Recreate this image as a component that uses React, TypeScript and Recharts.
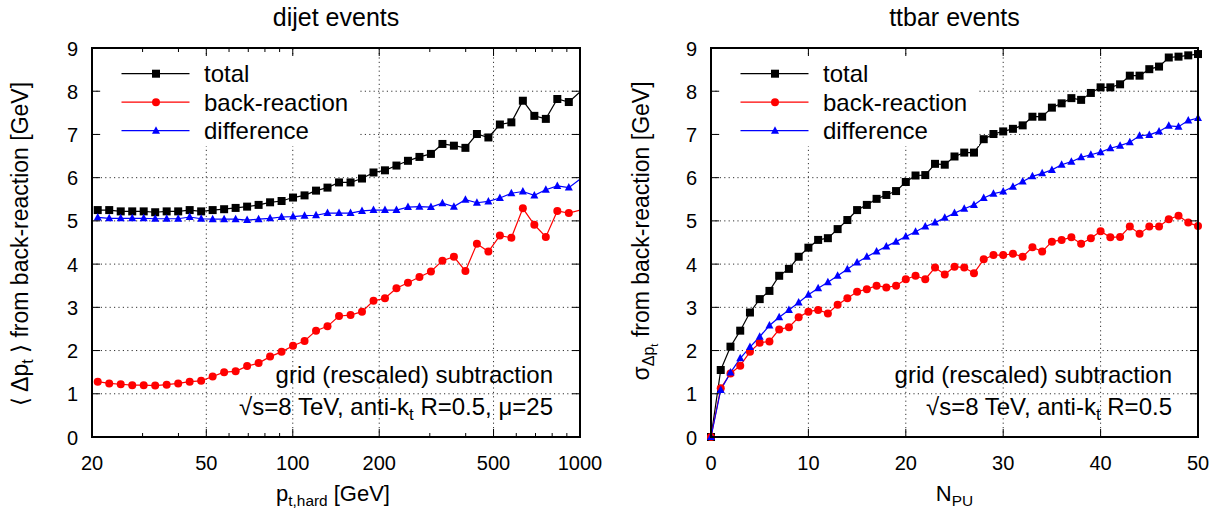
import { LineChart, Line, XAxis, YAxis, CartesianGrid, ReferenceLine } from 'recharts';

// dijet panel: p_t,hard bin centres (25 bins per decade)
const PT_HARD = [
  20.94, 22.96, 25.18, 27.61, 30.27, 33.19, 36.39, 39.91, 43.76, 47.98,
  52.61, 57.68, 63.25, 69.35, 76.04, 83.37, 91.42, 100.2, 109.9, 120.5,
  132.1, 144.9, 158.9, 174.2, 191.0, 209.4, 229.6, 251.8, 276.1, 302.7,
  331.9, 363.9, 399.1, 437.6, 479.8, 526.1, 576.8, 632.5, 693.5, 760.4,
  833.7, 914.2, 1002.4,
];
const DIJET_TOTAL = [
  5.25, 5.25, 5.22, 5.22, 5.22, 5.2, 5.22, 5.22, 5.25, 5.22,
  5.25, 5.27, 5.3, 5.33, 5.37, 5.43, 5.46, 5.54, 5.59, 5.7,
  5.77, 5.89, 5.89, 5.98, 6.12, 6.17, 6.28, 6.39, 6.48, 6.55,
  6.78, 6.74, 6.69, 7.01, 6.93, 7.23, 7.28, 7.78, 7.43, 7.36,
  7.82, 7.75, 7.99,
];
const DIJET_BACK = [
  1.28, 1.24, 1.22, 1.2, 1.2, 1.19, 1.21, 1.24, 1.28, 1.3,
  1.4, 1.5, 1.52, 1.64, 1.71, 1.86, 1.97, 2.11, 2.22, 2.46,
  2.56, 2.8, 2.82, 2.9, 3.15, 3.21, 3.44, 3.57, 3.7, 3.83,
  4.08, 4.17, 3.84, 4.47, 4.29, 4.66, 4.61, 5.29, 4.91, 4.63,
  5.23, 5.18, 5.25,
];
const DIJET_DIFF = [
  5.08, 5.06, 5.06, 5.06, 5.06, 5.05, 5.05, 5.05, 5.09, 5.05,
  5.04, 5.04, 5.04, 5.02, 5.04, 5.06, 5.09, 5.1, 5.12, 5.13,
  5.18, 5.18, 5.18, 5.23, 5.25, 5.25, 5.25, 5.32, 5.33, 5.32,
  5.41, 5.33, 5.49, 5.42, 5.45, 5.53, 5.64, 5.68, 5.59, 5.72,
  5.81, 5.77, 5.97,
];

// ttbar panel
const N_PU = [
  0, 1, 2, 3, 4, 5, 6, 7, 8, 9, 10, 11, 12, 13, 14, 15, 16, 17, 18, 19, 20,
  21, 22, 23, 24, 25, 26, 27, 28, 29, 30, 31, 32, 33, 34, 35, 36, 37, 38, 39, 40,
  41, 42, 43, 44, 45, 46, 47, 48, 49, 50,
];
const TTBAR_TOTAL = [
  0, 1.55, 2.09, 2.46, 2.88, 3.19, 3.38, 3.73, 3.89, 4.17, 4.38,
  4.56, 4.6, 4.81, 5.02, 5.25, 5.37, 5.51, 5.6, 5.69, 5.9,
  6.05, 6.06, 6.32, 6.3, 6.49, 6.58, 6.58, 6.89, 7.01, 7.07,
  7.13, 7.21, 7.41, 7.41, 7.62, 7.72, 7.84, 7.8, 7.96, 8.09,
  8.09, 8.16, 8.36, 8.36, 8.51, 8.57, 8.78, 8.8, 8.83, 8.86,
];
const TTBAR_BACK = [
  0, 1.13, 1.47, 1.65, 1.97, 2.18, 2.21, 2.49, 2.54, 2.77, 2.9,
  2.94, 2.86, 3.06, 3.21, 3.36, 3.42, 3.5, 3.46, 3.5, 3.65,
  3.73, 3.65, 3.92, 3.76, 3.94, 3.92, 3.79, 4.11, 4.21, 4.21,
  4.24, 4.17, 4.39, 4.29, 4.52, 4.56, 4.62, 4.47, 4.6, 4.76,
  4.62, 4.63, 4.87, 4.7, 4.87, 4.87, 5.04, 5.12, 4.96, 4.88,
];
const TTBAR_DIFF = [
  0, 1.09, 1.49, 1.82, 2.08, 2.32, 2.58, 2.77, 2.94, 3.11, 3.29,
  3.44, 3.58, 3.73, 3.88, 4.04, 4.17, 4.29, 4.41, 4.52, 4.64,
  4.75, 4.87, 4.96, 5.07, 5.18, 5.28, 5.37, 5.53, 5.63, 5.68,
  5.79, 5.91, 6.03, 6.1, 6.18, 6.3, 6.37, 6.47, 6.53, 6.59,
  6.68, 6.74, 6.82, 6.97, 6.99, 7.07, 7.2, 7.18, 7.32, 7.38,
];

const SERIES_LABELS = ['total', 'back-reaction', 'difference'];
const LOG_TICKS = [20, 30, 40, 50, 60, 70, 80, 90, 100, 200, 300, 400, 500, 600, 700, 800, 900, 1000];
const LOG_LABELS = [20, 50, 100, 200, 500, 1000];
const LOG_GRID = [50, 100, 200, 500];
const NPU_TICKS = [0, 10, 20, 30, 40, 50];
const NPU_GRID = [10, 20, 30, 40];
const Y_TICKS = [0, 1, 2, 3, 4, 5, 6, 7, 8, 9];

const dijetData = PT_HARD.map((pt, i) => ({
  pt,
  total: DIJET_TOTAL[i],
  back: DIJET_BACK[i],
  diff: DIJET_DIFF[i],
}));
const ttbarData = N_PU.map((n, i) => ({
  n,
  total: TTBAR_TOTAL[i],
  back: TTBAR_BACK[i],
  diff: TTBAR_DIFF[i],
}));

const FONT = '"Liberation Sans", Arial, Helvetica, sans-serif';
const COLORS = ['#000000', '#ff0000', '#0000ff'];
const CW = 614;
const CH = 518;
const TOP = 48;
const BOTTOM = 437;

const marker = (kind: number, cx: number, cy: number, key?: string) => {
  if (kind === 0) return <rect key={key} x={cx - 4} y={cy - 4} width={8} height={8} fill={COLORS[0]} />;
  if (kind === 1) return <circle key={key} cx={cx} cy={cy} r={4} fill={COLORS[1]} />;
  return (
    <polygon
      key={key}
      points={`${cx},${cy - 4.5} ${cx - 4},${cy + 3} ${cx + 4},${cy + 3}`}
      fill={COLORS[2]}
    />
  );
};

const makeDot = (kind: number, maxX?: number) => (props: any) => {
  const { cx, cy, index, payload } = props;
  const k = `d${kind}-${index}`;
  if (cx == null || cy == null) return <g key={k} />;
  if (maxX != null && payload.pt > maxX) return <g key={k} />;
  return marker(kind, cx, cy, k);
};

const makeXTick = (labels: number[], top: number, bottom: number) => (p: any) => {
  const v = p.payload.value;
  const major = labels.includes(v);
  const len = major ? 8 : 4;
  return (
    <g key={`xt-${v}`}>
      <line x1={p.x} x2={p.x} y1={bottom} y2={bottom - len} stroke="#000" />
      <line x1={p.x} x2={p.x} y1={top} y2={top + len} stroke="#000" />
      {major && (
        <text x={p.x} y={bottom + 33} textAnchor="middle" fontSize={20} fontFamily={FONT} fill="#000">
          {v}
        </text>
      )}
    </g>
  );
};

const makeYTick = (left: number, right: number) => (p: any) => {
  const v = p.payload.value;
  return (
    <g key={`yt-${v}`}>
      <line x1={left} x2={left + 8} y1={p.y} y2={p.y} stroke="#000" />
      <line x1={right - 8} x2={right} y1={p.y} y2={p.y} stroke="#000" />
      <text x={left - 14} y={p.y + 7.5} textAnchor="end" fontSize={20} fontFamily={FONT} fill="#000">
        {v}
      </text>
    </g>
  );
};

const gridStyle = { stroke: '#333', strokeDasharray: '1.2 3.2', strokeWidth: 1 };

const Key = ({ left }: { left: number }) => (
  <svg style={{ position: 'absolute', left, top: 57 }} width={259} height={89}>
    <rect width={259} height={89} fill="#fff" />
    {SERIES_LABELS.map((label, i) => {
      const cy = 16.7 + i * 28.5;
      return (
        <g key={label}>
          <line x1={20.5} x2={88.5} y1={cy} y2={cy} stroke={COLORS[i]} strokeWidth={1.3} />
          {marker(i, 55, cy)}
          <text x={103} y={cy + 8.5} fontSize={24} fontFamily={FONT} fill="#000">
            {label}
          </text>
        </g>
      );
    })}
  </svg>
);

const Frame = ({ left, right }: { left: number; right: number }) => (
  <div
    style={{
      position: 'absolute',
      left: left - 1,
      top: TOP - 1,
      width: right - left + 2,
      height: BOTTOM - TOP + 2,
      border: '2px solid #000',
      boxSizing: 'border-box',
      pointerEvents: 'none',
    }}
  />
);

const sub: React.CSSProperties = { fontSize: '0.7em', position: 'relative', top: '0.32em' };

const abs = (s: React.CSSProperties): React.CSSProperties => ({
  position: 'absolute',
  whiteSpace: 'nowrap',
  fontFamily: FONT,
  color: '#000',
  ...s,
});

const App = () => {
  return (
    <div style={{ position: 'absolute', left: 0, top: 0, width: 1228, height: 518, background: '#fff', overflow: 'hidden' }}>
      {/* left: dijet */}
      <div style={{ position: 'absolute', left: 0, top: 0 }}>
        <LineChart width={CW} height={CH} data={dijetData} margin={{ top: TOP, right: 34, bottom: 41, left: 32 }}>
          <CartesianGrid vertical={false} {...gridStyle} />
          {LOG_GRID.map((v) => (
            <ReferenceLine key={v} x={v} {...gridStyle} />
          ))}
          <XAxis
            dataKey="pt"
            type="number"
            scale="log"
            domain={[20, 1000]}
            allowDataOverflow
            ticks={LOG_TICKS}
            interval={0}
            height={40}
            tickLine={false}
            axisLine={false}
            tick={makeXTick(LOG_LABELS, TOP, BOTTOM)}
          />
          <YAxis
            type="number"
            domain={[0, 9]}
            ticks={Y_TICKS}
            interval={0}
            width={60}
            tickLine={false}
            axisLine={false}
            tick={makeYTick(92, 580)}
          />
          <Line dataKey="total" stroke={COLORS[0]} strokeWidth={1.2} dot={makeDot(0, 1000)} isAnimationActive={false} />
          <Line dataKey="back" stroke={COLORS[1]} strokeWidth={1.2} dot={makeDot(1, 1000)} isAnimationActive={false} />
          <Line dataKey="diff" stroke={COLORS[2]} strokeWidth={1.2} dot={makeDot(2, 1000)} isAnimationActive={false} />
        </LineChart>
      </div>

      {/* right: ttbar */}
      <div style={{ position: 'absolute', left: CW, top: 0 }}>
        <LineChart width={CW} height={CH} data={ttbarData} margin={{ top: TOP, right: 30, bottom: 41, left: 37 }}>
          <CartesianGrid vertical={false} {...gridStyle} />
          {NPU_GRID.map((v) => (
            <ReferenceLine key={v} x={v} {...gridStyle} />
          ))}
          <XAxis
            dataKey="n"
            type="number"
            domain={[0, 50]}
            ticks={NPU_TICKS}
            interval={0}
            height={40}
            tickLine={false}
            axisLine={false}
            tick={makeXTick(NPU_TICKS, TOP, BOTTOM)}
          />
          <YAxis
            type="number"
            domain={[0, 9]}
            ticks={Y_TICKS}
            interval={0}
            width={60}
            tickLine={false}
            axisLine={false}
            tick={makeYTick(97, 584)}
          />
          <Line dataKey="total" stroke={COLORS[0]} strokeWidth={1.2} dot={makeDot(0)} isAnimationActive={false} />
          <Line dataKey="back" stroke={COLORS[1]} strokeWidth={1.2} dot={makeDot(1)} isAnimationActive={false} />
          <Line dataKey="diff" stroke={COLORS[2]} strokeWidth={1.2} dot={makeDot(2)} isAnimationActive={false} />
        </LineChart>
      </div>

      <Frame left={92} right={580} />
      <Frame left={711} right={1198} />
      <Key left={101} />
      <Key left={720} />

      {/* titles */}
      <div style={abs({ left: 92, width: 488, top: 2, textAlign: 'center', fontSize: 25, lineHeight: '30px' })}>dijet events</div>
      <div style={abs({ left: 711, width: 487, top: 2, textAlign: 'center', fontSize: 25, lineHeight: '30px' })}>ttbar events</div>

      {/* annotations */}
      <div style={abs({ left: 150, width: 403, top: 361, textAlign: 'right', fontSize: 24, lineHeight: '28px' })}>
        grid (rescaled) subtraction
      </div>
      <div style={abs({ left: 150, width: 403, top: 393, textAlign: 'right', fontSize: 24, lineHeight: '28px' })}>
        √s=8 TeV, anti-k<span style={sub}>t</span> R=0.5, μ=25
      </div>
      <div style={abs({ left: 770, width: 402, top: 361, textAlign: 'right', fontSize: 24, lineHeight: '28px' })}>
        grid (rescaled) subtraction
      </div>
      <div style={abs({ left: 770, width: 402, top: 393, textAlign: 'right', fontSize: 24, lineHeight: '28px' })}>
        √s=8 TeV, anti-k<span style={sub}>t</span> R=0.5
      </div>

      {/* x-axis titles */}
      <div style={abs({ left: 92, width: 482, top: 480, textAlign: 'center', fontSize: 22, lineHeight: '28px' })}>
        p<span style={sub}>t,hard</span> [GeV]
      </div>
      <div style={abs({ left: 711, width: 487, top: 480, textAlign: 'center', fontSize: 22, lineHeight: '28px' })}>
        N<span style={sub}>PU</span>
      </div>

      {/* y-axis titles */}
      <div
        style={abs({
          left: 21,
          top: 244,
          fontSize: 23,
          lineHeight: '28px',
          transform: 'translate(-50%, -50%) rotate(-90deg)',
        })}
      >
        ⟨ Δp<span style={sub}>t</span> ⟩ from back-reaction [GeV]
      </div>
      <div
        style={abs({
          left: 643,
          top: 231,
          fontSize: 23,
          lineHeight: '28px',
          transform: 'translate(-50%, -50%) rotate(-90deg)',
        })}
      >
        σ
        <span style={sub}>
          Δp<span style={sub}>t</span>
        </span>{' '}
        from back-reaction [GeV]
      </div>
    </div>
  );
};

export default App;
